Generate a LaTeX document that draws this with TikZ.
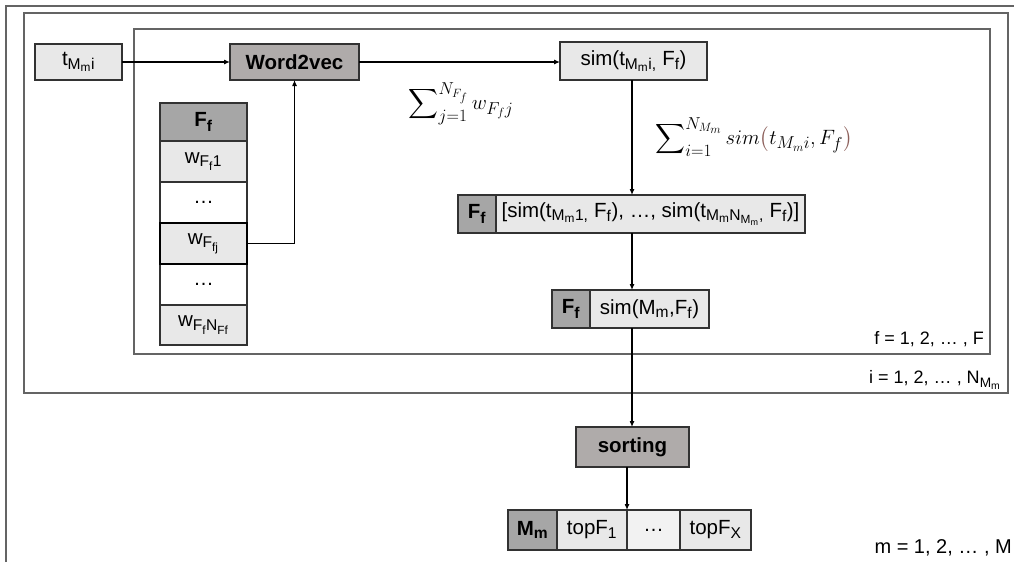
\documentclass[tikz,border=0pt]{standalone}
\usepackage{amsmath}
\usepackage{fontspec}
\setmainfont{Liberation Sans}
\usetikzlibrary{arrows.meta}
\renewcommand\defaultscriptratio{.76}
\renewcommand\defaultscriptscriptratio{.6}
\definecolor{lightc}{RGB}{232,232,232}
\definecolor{paler}{RGB}{242,242,242}
\definecolor{darkA}{RGB}{175,171,170}
\definecolor{darkB}{RGB}{166,166,166}
\definecolor{linec}{RGB}{50,50,50}
\definecolor{framec}{RGB}{100,100,100}
\definecolor{brownc}{RGB}{140,95,90}
\newcommand\sbs[1]{\textsubscript{#1}}
\newcommand\fs{\fontsize{20.5}{24}\selectfont}
\newcommand\fl{\fontsize{18}{22}\selectfont}
\begin{document}
\begin{tikzpicture}[x=1pt,y=-1pt,
  box/.style={draw=linec, line width=1.1pt, inner sep=0pt, outer sep=0pt, font=\fs, minimum height=38pt},
  lbl/.style={inner sep=0pt, font=\fl},
  mth/.style={inner sep=0pt, font=\fontsize{21}{25}\selectfont},
  arr/.style={draw=black, line width=1.1pt, -{Latex[length=6pt,width=5pt]}},
  frame/.style={draw=framec, line width=1.6pt}]
\useasboundingbox (0,0) rectangle (1014,562);
% frames
\draw[frame] (6,562) -- (6,6) -- (1014,6);
\draw[frame] (24,13) rectangle (1008,393);
\draw[frame] (134,29) rectangle (990,354);
% top row
\node[box, fill=lightc, minimum width=87pt, minimum height=36pt] (tm) at (78.5,62) {t\sbs{M\sbs{m}i}};
\node[box, fill=darkA, minimum width=129pt, minimum height=36pt, font=\fs\bfseries] (w2v) at (294.5,62) {Word2vec};
\node[box, fill=lightc, minimum width=147pt] (sim) at (633.5,61) {sim(t\sbs{M\sbs{m}i,} F\sbs{f})};
% table
\node[box, fill=darkB, minimum width=87pt] (fh) at (203.5,122) {\textbf{F\sbs{f}}};
\node[box, fill=lightc, minimum width=87pt, minimum height=41pt] (w1) at (203.5,161.5) {w\sbs{F\sbs{f}1}};
\node[box, fill=white, minimum width=87pt, minimum height=41pt] (d1) at (203.5,202.5) {\dots};
\node[box, fill=white, minimum width=87pt, minimum height=41pt] (d2) at (203.5,284.5) {\dots};
\node[box, fill=lightc, minimum width=87pt, minimum height=40pt] (wn) at (203.5,325) {w\sbs{F\sbs{f}N\sbs{Ff}}};
\node[box, fill=lightc, minimum width=87pt, minimum height=41pt, line width=2.4pt, draw=black] (wj) at (203.5,243.5) {w\sbs{F\sbs{fj}}};
% sums
\node[mth] (s1) at (461,104) {$\displaystyle\sum\nolimits_{j=1}^{N_{F_f}} w_{F_fj}$};
\node[mth] (s2) at (754,137) {$\displaystyle\sum\nolimits_{i=1}^{N_{M_m}} sim\textcolor{brownc}{\bigl(}t_{M_mi},F_f\textcolor{brownc}{\bigr)}$};
% row A
\node[box, fill=darkB, minimum width=38pt] (fa) at (477,214) {\textbf{F\sbs{f}}};
\node[box, fill=lightc, minimum width=309pt] (sa) at (650.5,214) {[sim(t\sbs{M\sbs{m}1,} F\sbs{f}), \dots, sim(t\sbs{M\sbs{m}N\sbs{M\sbs{m}},} F\sbs{f})]};
% row B
\node[box, fill=darkB, minimum width=38pt] (fb) at (571,309) {\textbf{F\sbs{f}}};
\node[box, fill=lightc, minimum width=119pt] (sb) at (649.5,309) {sim(M\sbs{m},F\sbs{f})};
% sorting
\node[box, fill=darkA, minimum width=113pt, minimum height=40pt, font=\fs\bfseries] (sort) at (632.5,447) {sorting};
% bottom row
\node[box, fill=darkB, minimum width=49pt, minimum height=40pt] (mm) at (532.5,530) {\textbf{M\sbs{m}}};
\node[box, fill=lightc, minimum width=70pt, minimum height=40pt] (t1) at (592,530) {topF\sbs{1}};
\node[box, fill=paler, minimum width=53pt, minimum height=40pt] (dd) at (653.5,530) {\dots};
\node[box, fill=lightc, minimum width=71pt, minimum height=40pt] (tx) at (715.5,530) {topF\sbs{X}};
% labels
\node[lbl, anchor=east] (lf) at (984,339) {f = 1, 2, \dots\ , F};
\node[lbl, anchor=east] (li) at (1001,380) {i = 1, 2, \dots\ , N\sbs{M\sbs{m}}};
\node[lbl, anchor=east, font=\fontsize{20}{24}\selectfont] (lm) at (1012,548) {m = 1, 2, \dots\ , M};
% connectors
\draw[arr] (tm.east) -- (w2v.west);
\draw[arr] (w2v.east) -- (w2v.east -| sim.west);
\draw[arr] (wj.east) -| (w2v.south);
\draw[arr] (632,80) -- (632,195);
\draw[arr] (632,233) -- (632,290);
\draw[arr] (632,328) -- (sort.north -| 632,0);
\draw[arr] (sort.south -| 627,0) -- (t1.north east);
\end{tikzpicture}
\end{document}
